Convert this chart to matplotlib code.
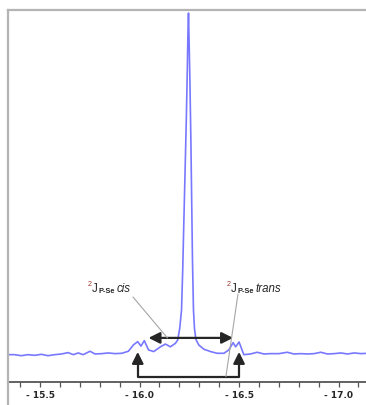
import matplotlib
matplotlib.use("Agg")
import matplotlib.pyplot as plt
from matplotlib.lines import Line2D
from matplotlib.ticker import MultipleLocator, FuncFormatter

# 31P spectrum, chemical shift (ppm) and intensity (peak = 100)
ppm = [-15.338, -15.372, -15.406, -15.439, -15.473, -15.507, -15.540, -15.574,
       -15.608, -15.641, -15.667, -15.692, -15.717, -15.751, -15.776, -15.810,
       -15.843, -15.877, -15.911, -15.944, -15.970,
       -15.991, -16.007, -16.024, -16.045, -16.071, -16.105, -16.130, -16.155,
       -16.180, -16.192, -16.202, -16.211, -16.217, -16.222, -16.229, -16.235,
       -16.240, -16.243, -16.246, -16.249, -16.253, -16.258, -16.262, -16.266,
       -16.271, -16.276, -16.283, -16.298, -16.323, -16.357, -16.390, -16.424,
       -16.449, -16.470, -16.483, -16.500, -16.524,
       -16.557, -16.591, -16.625, -16.658, -16.701, -16.742, -16.776, -16.810,
       -16.843, -16.877, -16.911, -16.944, -16.978, -17.012, -17.045, -17.079,
       -17.113, -17.146]
intensity = [0.1, 0.1, -0.2, 0.1, -0.1, 0.2, -0.2, 0.1,
             0.3, 0.7, 0.1, 0.6, 0.1, 1.1, 0.3, 0.4,
             0.6, 0.4, 0.5, 1.1, 3.0,
             3.9, 2.6, 4.2, 1.5, 1.0, 2.4, 3.2, 2.4,
             3.4, 4.4, 7.8, 13.2, 24.9, 37.4, 54.1, 68.7,
             83.3, 93.6, 100.0, 92.1, 80.4, 62.9, 45.3, 27.8,
             13.2, 7.8, 4.6, 2.9, 1.7, 1.0, 0.5, 0.5,
             1.5, 3.6, 2.4, 3.8, 0.1,
             0.3, 0.8, 0.3, 0.4, 0.4, 0.8, 0.3, 0.4,
             0.3, 0.4, 0.8, 0.3, 0.4, 0.6, 0.3, 0.6,
             0.4, 0.5]

# Se satellites
outer_sat = (-15.991, -16.500)
inner_sat = (-16.045, -16.470)
labels = ['cis', 'trans']

W, H = 366, 405
XLIM = (-15.339, -17.138)
YLIM = (-7.75, 100.9)
LINE = '#7878ff'
DARK = '#262626'
GREY = '#b4b4b4'


def fig_xy(x, y):
    return x / W, 1 - y / H


fig = plt.figure(figsize=(W / 100, H / 100), dpi=100)
ax = fig.add_axes([8 / W, 1 - 381.5 / H, (W - 8) / W, (381.5 - 10) / H])
ax.plot(ppm, intensity, color=LINE, lw=1.2, solid_joinstyle='round')
ax.set_xlim(*XLIM)
ax.set_ylim(*YLIM)

for s in ['left', 'top']:
    ax.spines[s].set_color(GREY)
    ax.spines[s].set_linewidth(1.6)
ax.spines['right'].set_visible(False)
ax.spines['bottom'].set_color('#555555')
ax.spines['bottom'].set_linewidth(1.3)
ax.set_yticks([])
ax.xaxis.set_major_locator(MultipleLocator(0.5))
ax.xaxis.set_minor_locator(MultipleLocator(0.1))
ax.xaxis.set_major_formatter(FuncFormatter(lambda v, p: '- %.1f' % abs(v)))
ax.tick_params(axis='x', which='both', direction='out', length=3.8,
               width=0.9, color='#555555')
ax.tick_params(axis='x', which='major', pad=3, labelsize=6.5, labelcolor=DARK)
for t in ax.get_xticklabels():
    t.set_fontweight('bold')

# left border continues below the axis
fig.add_artist(Line2D([8 / W, 8 / W], [0, 1 - 381.5 / H], color=GREY, lw=1.6))

# bracket below the spectrum (outer satellites)
base = -6.3
tip = 0.9
ax.plot([outer_sat[0], outer_sat[0], outer_sat[1], outer_sat[1]],
        [tip - 2.5, base, base, tip - 2.5], color=DARK, lw=1.6, clip_on=False)
for xs in outer_sat:
    ax.annotate('', xy=(xs, tip), xytext=(xs, tip - 3.0),
                arrowprops=dict(arrowstyle='-|>', mutation_scale=17, lw=1.6,
                                color=DARK, shrinkA=0, shrinkB=0))

# double arrow (inner satellites)
level = 5.0
ax.annotate('', xy=(inner_sat[0], level), xytext=(inner_sat[1], level),
            arrowprops=dict(arrowstyle='<|-|>', mutation_scale=17, lw=1.6,
                            color=DARK, shrinkA=0, shrinkB=0))

# labels with leader lines
font = 'Liberation Sans'
label_pos = [(92, 292), (231, 292)]
leader_start = [(133, 297), (238, 294)]
leader_end = [(-16.14, level), (-16.434, base)]
for word, (lx, ly), start, end in zip(labels, label_pos, leader_start, leader_end):
    fx, fy = fig_xy(lx, ly)
    tj = fig.text(fx, fy, 'J', fontsize=8.3, color=DARK, family=font,
                  va='baseline')
    ax.annotate('2', xy=(0, 1), xycoords=tj, xytext=(-0.3, -3.5),
                textcoords='offset points', ha='right', va='bottom',
                fontsize=5.2, color='#9a3a30', family=font, annotation_clip=False)
    ts = ax.annotate('P-Se', xy=(1, 0), xycoords=tj, xytext=(0.3, 0),
                     textcoords='offset points', ha='left', va='bottom',
                     fontsize=5.3, color=DARK, family=font, fontweight='bold',
                     annotation_clip=False)
    ax.annotate(word, xy=(1, 0), xycoords=ts, xytext=(1.5, 0),
                textcoords='offset points', ha='left', va='bottom',
                fontsize=8.3, color=DARK, family=font, style='italic',
                annotation_clip=False)
    ax.annotate('', xy=end, xycoords='data',
                xytext=fig_xy(*start), textcoords='figure fraction',
                arrowprops=dict(arrowstyle='-', color='#a6a6a6', lw=0.8,
                                shrinkA=0, shrinkB=0), annotation_clip=False)

fig.savefig('out.png', dpi=100, facecolor='white')
